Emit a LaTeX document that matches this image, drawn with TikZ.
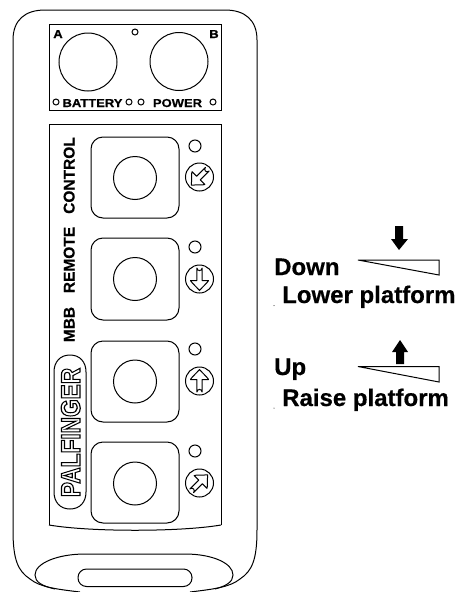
\documentclass[tikz,border=0pt]{standalone}
\usepackage{fontspec}
\setmainfont[BoldFeatures={FakeBold=0.5}]{Liberation Sans}
\newfontfamily\logofont{Liberation Sans Bold}
\newcommand{\outlinetext}[1]{\special{pdf:code q 1 Tr 1.2 w}#1\special{pdf:code Q}}
\tikzset{
  ln/.style={draw=black,line width=1pt},
  heavy/.style={draw=black,line width=1pt},
  label/.style={inner sep=0pt,font=\bfseries\fontsize{24}{24}\selectfont,anchor=base west},
  small/.style={inner sep=0pt,font=\bfseries\fontsize{11.5}{11}\selectfont,anchor=base,xscale=1.13},
  side/.style={inner sep=0pt,font=\bfseries\fontsize{15.5}{15.5}\selectfont,rotate=90,anchor=mid},
  btn/.style={draw=black,line width=1pt,rounded corners=12pt},
}
\newcommand{\iconarrow}[3]{%
  \begin{scope}[shift={(#1,#2)},rotate=#3]
    \draw[ln,line join=round] (-2.6,11) -- (-2.6,-1.5) -- (-9,-1.5) .. controls (-9,-2.5) and (-3,-8) .. (0,-11.5) .. controls (3,-8) and (9,-2.5) .. (9,-1.5) -- (2.6,-1.5) -- (2.6,11) arc[start angle=0,end angle=-180,radius=2.6] -- cycle;
  \end{scope}}
\begin{document}
\begin{tikzpicture}[x=1pt,y=-1pt]
\useasboundingbox (0,0) rectangle (456,592);
% body
\path[ln] (80,592) .. controls (55,589) and (40,587) .. (30,579) .. controls (18,571) and (13,560) .. (13,530)
  -- (13,40) .. controls (13,20) and (25,10) .. (45,10) -- (225,10) .. controls (245,10) and (257,20) .. (257,40)
  -- (257,530) .. controls (257,560) and (252,571) .. (240,579) .. controls (230,587) and (215,589) .. (190,592);
% handle
\path[ln] (55,589) .. controls (42,586) and (35,582) .. (35,575) .. controls (35,563) and (58,554) .. (85,554)
  -- (185,554) .. controls (212,554) and (233,563) .. (233,575) .. controls (233,582) and (226,586) .. (215,589);
\draw[ln,rounded corners=8.5pt] (78,569) rectangle (192,586.5);
% top panel
\path[heavy] (49,24) rectangle (221,110);
\node[draw=black,line width=1pt,circle,minimum size=58pt,inner sep=0pt] (battc) at (88,62) {};
\node[draw=black,line width=1pt,circle,minimum size=58pt,inner sep=0pt] (powc) at (179,61.5) {};
\foreach \n/\x/\y in {ta/135/32,tb/56/102,tc/129/102,td/141/102,te/213/102}
  \node[draw=black,line width=1pt,circle,minimum size=6pt,inner sep=0pt] (\n) at (\x,\y) {};
\node[small] (lA) at (58,38) {A};
\node[small] (lB) at (214,38) {B};
\node[small] (lbat) at (92.5,107) {BATTERY};
\node[small] (lpow) at (177.5,107) {POWER};
% main panel
\path[heavy] (49,525) -- (49,124) -- (221,124) -- (221,525);
\path[ln] (49,525) .. controls (90,532) and (180,532) .. (221,525);
\node[side,anchor=base] (lctl) at (74.5,175.5) {CONTROL};
\node[side,anchor=base] (lrem) at (74.5,260) {REMOTE};
\node[side,anchor=base] (lmbb) at (74.5,324.5) {MBB};
% buttons
\foreach \n/\t/\b/\c/\s/\i/\r in {a/137/218/178/146/177/135,b/238/320/279/247/279/180,c/341/422/381.5/349/381/0,d/442/523/483.5/451/483/-45}{
  \draw[btn] (91,\t) rectangle (179,\b);
  \node[draw=black,line width=1pt,circle,minimum size=43pt,inner sep=0pt] (k\n) at (135,\c) {};
  \node[draw=black,line width=1pt,circle,minimum size=12pt,inner sep=0pt] (l\n) at (195,\s) {};
  \node[draw=black,line width=1pt,circle,minimum size=28pt,inner sep=0pt] (i\n) at (199.5,\i) {};
  \iconarrow{199.5}{\i}{\r}
}
% logo
\draw[ln] (70,355) .. controls (80,355) and (86,362) .. (86,372) -- (86,492) .. controls (86,502) and (80,509) .. (70,509) .. controls (60,509) and (54,502) .. (54,492) -- (54,372) .. controls (54,362) and (60,355) .. (70,355) -- cycle;
\node[inner sep=0pt,rotate=90,anchor=base,xscale=0.84,font=\logofont\fontsize{27}{27}\selectfont] (logo) at (80,432.5) {\outlinetext{PALFINGER}};
% right
\node[label] (down) at (274,275) {Down};
\node[label] (lower) at (282,303) {Lower platform};
\node[label] (up) at (274,375) {Up};
\node[label] (raise) at (282,406) {Raise platform};
\draw[ln,line join=miter] (358,260) -- (439,260) -- (439,275) -- cycle;
\draw[ln,line join=miter] (358,366.5) -- (439,366.5) -- (439,382) -- cycle;
\fill (395,226) -- (403,226) -- (403,239) -- (408,239) -- (399,250) -- (391,239) -- (395,239) -- cycle;
\fill (400,340) -- (408,352) -- (404,352) -- (404,364) -- (396,364) -- (396,352) -- (392,352) -- cycle;
\fill (274,305.5) circle (0.5);
\fill (274,408) circle (0.5);
\end{tikzpicture}
\end{document}
